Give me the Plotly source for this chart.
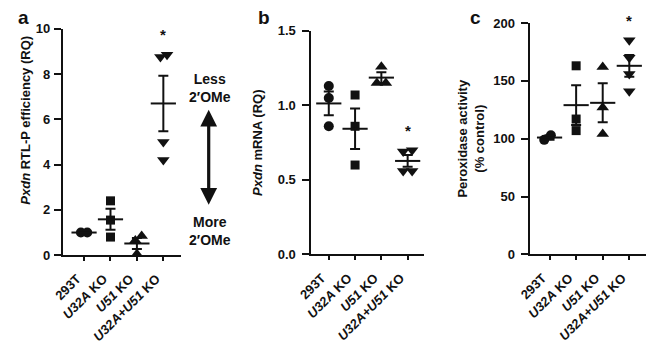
import numpy as np
import plotly.graph_objects as go

# ---------------- data ----------------
categories = ["293T", "<i>U32A</i> KO", "<i>U51</i> KO", "<i>U32A+U51</i> KO"]

# panel a: Pxdn RTL-P efficiency (RQ)
a_293T = [1.0, 1.0]
a_U32A = [2.4, 1.55, 0.8]
a_U51 = [0.65, 0.85, 0.05]
a_double = [8.75, 8.85, 5.0, 4.2]

# panel b: Pxdn mRNA (RQ)
b_293T = [1.13, 1.05, 0.86]
b_U32A = [1.07, 0.86, 0.60]
b_U51 = [1.26, 1.15, 1.15]
b_double = [0.70, 0.69, 0.56, 0.56]

# panel c: Peroxidase activity (% control)
c_293T = [99, 103]
c_U32A = [163, 117, 107]
c_U51 = [162, 127, 104]
c_double = [185, 170, 156, 141]

a_ticks = [0, 2, 4, 6, 8, 10]
b_ticks = [0.0, 0.5, 1.0, 1.5]
c_ticks = [0, 50, 100, 150, 200]

# horizontal spreading of overlapping points (category units)
a_spread = [[-0.12, 0.12], [0, 0, 0], [-0.06, 0.18, 0], [-0.11, 0.14, 0, 0]]
b_spread = [[0, 0, 0], [0, 0, 0], [0, -0.17, 0.17], [0.17, -0.17, -0.17, 0.17]]
c_spread = [[-0.2, 0.05], [0, 0, 0], [0, 0, 0], [0, 0, 0, 0]]

# ---------------- layout helpers ----------------
W, H = 648, 350
FONT = "Liberation Sans, Arial, sans-serif"
BLACK = "#111111"
FS = 13


def px_x(x):
    return x / W


def px_y(y):
    return (H - y) / H


def tfont(size=FS):
    return dict(size=size, color=BLACK, family=FONT, weight="bold")


symbols = ["circle", "square", "triangle-up", "triangle-down"]
sizes = [10, 9, 11, 11]

fig = go.Figure()

panels = [
    dict(groups=[a_293T, a_U32A, a_U51, a_double], spread=a_spread, ticks=a_ticks,
         ticktext=[str(t) for t in a_ticks], yrange=[0, 10],
         xdom=[px_x(50), px_x(171)], ydom=[px_y(259.3), px_y(22.7)], xrange=[-0.80, 3.68],
         title=None, standoff=8, lstand=1),
    dict(groups=[b_293T, b_U32A, b_U51, b_double], spread=b_spread, ticks=b_ticks,
         ticktext=[f"{t:.1f}" for t in b_ticks], yrange=[0, 1.5],
         xdom=[px_x(304), px_x(419)], ydom=[px_y(258.5), px_y(25)], xrange=[-0.66, 3.62],
         title="<i>Pxdn</i> mRNA (RQ)", standoff=12, lstand=4),
    dict(groups=[c_293T, c_U32A, c_U51, c_double], spread=c_spread, ticks=c_ticks,
         ticktext=[str(t) for t in c_ticks], yrange=[0, 200],
         xdom=[px_x(527), px_x(646)], ydom=[px_y(258.5), px_y(16.7)], xrange=[-0.75, 3.63],
         title="Peroxidase activity<br>(% control)", standoff=6, lstand=3),
]

annotations = []
for i, p in enumerate(panels):
    n = i + 1
    xa = "x" if n == 1 else f"x{n}"
    ya = "y" if n == 1 else f"y{n}"
    means, sems = [], []
    for g, (vals, offs) in enumerate(zip(p["groups"], p["spread"])):
        vals = np.array(vals, dtype=float)
        xs = [g + o for o in offs]
        fig.add_trace(go.Scatter(
            x=xs, y=vals, mode="markers", xaxis=xa, yaxis=ya, showlegend=False,
            cliponaxis=False,
            marker=dict(symbol=symbols[g], size=sizes[g], color=BLACK, line=dict(width=0)),
        ))
        means.append(vals.mean())
        sems.append(vals.std(ddof=1) / np.sqrt(len(vals)))
    fig.add_trace(go.Scatter(
        x=list(range(len(means))), y=means, mode="markers", xaxis=xa, yaxis=ya,
        showlegend=False, cliponaxis=False,
        marker=dict(symbol="line-ew", size=18, line=dict(width=2, color=BLACK)),
        error_y=dict(type="data", array=sems, width=5, thickness=2, color=BLACK),
    ))
    # significance asterisk above the double knockout
    annotations.append(dict(
        x=3, y=max(p["groups"][3]), xref=xa, yref=ya, text="*", showarrow=False,
        yshift=20, font=tfont(15),
    ))
    axis_x = dict(
        domain=p["xdom"], range=p["xrange"], anchor=ya,
        tickmode="array", tickvals=list(range(len(categories))), ticktext=categories,
        tickangle=-45, showline=True, linewidth=2, linecolor=BLACK,
        ticks="outside", ticklen=4, tickwidth=1.5, tickcolor=BLACK,
        ticklabelshift=-7, ticklabelstandoff=5,
        showgrid=False, zeroline=False,
        tickfont=tfont(),
    )
    axis_y = dict(
        domain=p["ydom"], range=p["yrange"], anchor=xa,
        tickmode="array", tickvals=p["ticks"], ticktext=p["ticktext"],
        showline=True, linewidth=2, linecolor=BLACK,
        ticks="outside", ticklen=7, tickwidth=2, tickcolor=BLACK,
        ticklabelstandoff=p["lstand"],
        showgrid=False, zeroline=False,
        tickfont=tfont(),
    )
    if p["title"]:
        axis_y["title"] = dict(text=p["title"], standoff=p["standoff"], font=tfont())
    fig.update_layout(**{("xaxis" if n == 1 else f"xaxis{n}"): axis_x,
                         ("yaxis" if n == 1 else f"yaxis{n}"): axis_y})

# panel a y-axis title (sits above the axis centre in the original)
annotations.append(dict(
    x=px_x(12), y=px_y(118), xref="paper", yref="paper", xanchor="center", yanchor="middle",
    text="<i>Pxdn</i> RTL-P efficiency (RQ)", textangle=-90, showarrow=False, font=tfont(),
))

# panel letters
for letter, xpx in [("a", 2), ("b", 247), ("c", 464)]:
    annotations.append(dict(
        x=px_x(xpx), y=px_y(-2), xref="paper", yref="paper", xanchor="left", yanchor="top",
        text=f"<b>{letter}</b>", showarrow=False, font=tfont(19),
    ))

# double arrow with labels (panel a)
annotations.append(dict(
    x=px_x(199), y=px_y(206.7), xref="paper", yref="paper", xanchor="center",
    ax=0, ay=-96.7, axref="pixel", ayref="pixel", text="",
    showarrow=True, arrowhead=2, arrowside="end+start", arrowwidth=3.2, arrowsize=1.05,
    arrowcolor=BLACK, standoff=0, startstandoff=0,
))
annotations.append(dict(
    x=px_x(200), y=px_y(85), xref="paper", yref="paper", xanchor="center", yanchor="middle",
    text="Less<br>2′OMe", showarrow=False, align="center", font=tfont(14),
))
annotations.append(dict(
    x=px_x(200), y=px_y(234), xref="paper", yref="paper", xanchor="center", yanchor="middle",
    text="More<br>2′OMe", showarrow=False, align="center", font=tfont(14),
))

fig.update_layout(
    width=W, height=H, margin=dict(l=0, r=0, t=0, b=0),
    paper_bgcolor="white", plot_bgcolor="white",
    font=dict(family=FONT, size=FS, color=BLACK),
    annotations=annotations, showlegend=False,
)

# remove the browser's default 8px page margin so the figure fills the window
fig.write_html("out.html",
               config={"displayModeBar": False},
               post_script="document.body.style.margin='0';document.body.style.overflow='hidden';")
